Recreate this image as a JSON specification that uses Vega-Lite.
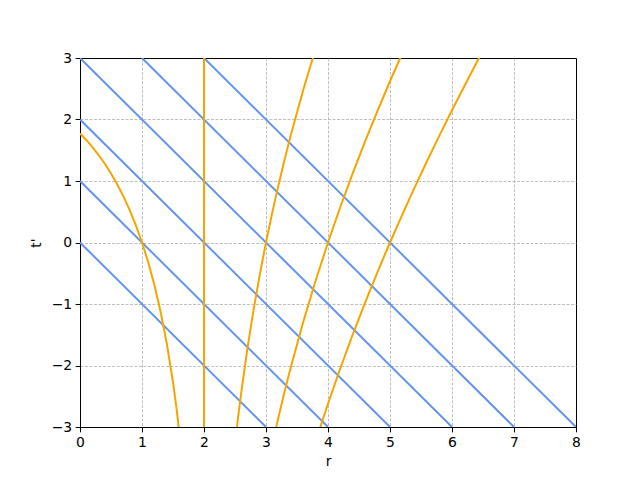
{
  "$schema": "https://vega.github.io/schema/vega-lite/v6.json",
  "width": 496,
  "height": 369,
  "autosize": {"type": "none"},
  "padding": {"left": 80, "top": 58, "right": 64, "bottom": 53},
  "background": "white",
  "config": {
    "font": "DejaVu Sans",
    "view": {"stroke": "black", "strokeWidth": 1},
    "axis": {
      "domainColor": "black", "tickColor": "black", "labelColor": "black", "titleColor": "black",
      "labelFontSize": 13.9, "titleFontSize": 13.9, "titleFontWeight": "normal", "tickSize": 4.86,
      "labelPadding": 3.5,
      "labelFont": "DejaVu Sans", "titleFont": "DejaVu Sans",
      "gridColor": "#b0b0b0", "gridDash": [3, 1.5], "gridWidth": 0.8
    }
  },
  "data": {"values": [
    {"r": 0, "t": 0, "id": "b0", "kind": "in"}, {"r": 3, "t": -3, "id": "b0", "kind": "in"},
    {"r": 0, "t": 1, "id": "b1", "kind": "in"}, {"r": 4, "t": -3, "id": "b1", "kind": "in"},
    {"r": 0, "t": 2, "id": "b2", "kind": "in"}, {"r": 5, "t": -3, "id": "b2", "kind": "in"},
    {"r": 0, "t": 3, "id": "b3", "kind": "in"}, {"r": 6, "t": -3, "id": "b3", "kind": "in"},
    {"r": 1, "t": 3, "id": "b4", "kind": "in"}, {"r": 7, "t": -3, "id": "b4", "kind": "in"},
    {"r": 2, "t": 3, "id": "b5", "kind": "in"}, {"r": 8, "t": -3, "id": "b5", "kind": "in"},

    {"r": 0, "t": 1.7726, "id": "oA", "kind": "out"},
    {"r": 0.1, "t": 1.6674, "id": "oA", "kind": "out"},
    {"r": 0.2, "t": 1.5512, "id": "oA", "kind": "out"},
    {"r": 0.3, "t": 1.4225, "id": "oA", "kind": "out"},
    {"r": 0.4, "t": 1.28, "id": "oA", "kind": "out"},
    {"r": 0.5, "t": 1.1219, "id": "oA", "kind": "out"},
    {"r": 0.6, "t": 0.9459, "id": "oA", "kind": "out"},
    {"r": 0.7, "t": 0.7495, "id": "oA", "kind": "out"},
    {"r": 0.8, "t": 0.5293, "id": "oA", "kind": "out"},
    {"r": 0.9, "t": 0.2812, "id": "oA", "kind": "out"},
    {"r": 1.0, "t": 0, "id": "oA", "kind": "out"},
    {"r": 1.05, "t": -0.1552, "id": "oA", "kind": "out"},
    {"r": 1.1, "t": -0.3214, "id": "oA", "kind": "out"},
    {"r": 1.2, "t": -0.6926, "id": "oA", "kind": "out"},
    {"r": 1.3, "t": -1.1267, "id": "oA", "kind": "out"},
    {"r": 1.4, "t": -1.6433, "id": "oA", "kind": "out"},
    {"r": 1.5, "t": -2.2726, "id": "oA", "kind": "out"},
    {"r": 1.55, "t": -2.644, "id": "oA", "kind": "out"},
    {"r": 1.6, "t": -3.0652, "id": "oA", "kind": "out"},

    {"r": 2, "t": -3, "id": "oV", "kind": "out"},
    {"r": 2, "t": 3, "id": "oV", "kind": "out"},

    {"r": 2.5, "t": -3.2726, "id": "oB", "kind": "out"},
    {"r": 2.55, "t": -2.8413, "id": "oB", "kind": "out"},
    {"r": 2.6, "t": -2.4433, "id": "oB", "kind": "out"},
    {"r": 2.7, "t": -1.7267, "id": "oB", "kind": "out"},
    {"r": 2.8, "t": -1.0926, "id": "oB", "kind": "out"},
    {"r": 2.9, "t": -0.5214, "id": "oB", "kind": "out"},
    {"r": 3.0, "t": 0, "id": "oB", "kind": "out"},
    {"r": 3.1, "t": 0.4812, "id": "oB", "kind": "out"},
    {"r": 3.2, "t": 0.9293, "id": "oB", "kind": "out"},
    {"r": 3.3, "t": 1.3495, "id": "oB", "kind": "out"},
    {"r": 3.4, "t": 1.7459, "id": "oB", "kind": "out"},
    {"r": 3.6, "t": 2.48, "id": "oB", "kind": "out"},
    {"r": 3.8, "t": 3.1512, "id": "oB", "kind": "out"},

    {"r": 3.1, "t": -3.2914, "id": "oC", "kind": "out"},
    {"r": 3.2, "t": -2.8433, "id": "oC", "kind": "out"},
    {"r": 3.3, "t": -2.4231, "id": "oC", "kind": "out"},
    {"r": 3.4, "t": -2.0267, "id": "oC", "kind": "out"},
    {"r": 3.6, "t": -1.2926, "id": "oC", "kind": "out"},
    {"r": 3.8, "t": -0.6214, "id": "oC", "kind": "out"},
    {"r": 4.0, "t": 0, "id": "oC", "kind": "out"},
    {"r": 4.2, "t": 0.5812, "id": "oC", "kind": "out"},
    {"r": 4.4, "t": 1.1293, "id": "oC", "kind": "out"},
    {"r": 4.6, "t": 1.6495, "id": "oC", "kind": "out"},
    {"r": 4.8, "t": 2.1459, "id": "oC", "kind": "out"},
    {"r": 5.0, "t": 2.6219, "id": "oC", "kind": "out"},
    {"r": 5.2, "t": 3.08, "id": "oC", "kind": "out"},

    {"r": 3.8, "t": -3.2433, "id": "oD", "kind": "out"},
    {"r": 3.9, "t": -2.9271, "id": "oD", "kind": "out"},
    {"r": 4.0, "t": -2.6219, "id": "oD", "kind": "out"},
    {"r": 4.2, "t": -2.0407, "id": "oD", "kind": "out"},
    {"r": 4.4, "t": -1.4926, "id": "oD", "kind": "out"},
    {"r": 4.6, "t": -0.9724, "id": "oD", "kind": "out"},
    {"r": 4.8, "t": -0.476, "id": "oD", "kind": "out"},
    {"r": 5.0, "t": 0, "id": "oD", "kind": "out"},
    {"r": 5.2, "t": 0.4581, "id": "oD", "kind": "out"},
    {"r": 5.4, "t": 0.9006, "id": "oD", "kind": "out"},
    {"r": 5.6, "t": 1.3293, "id": "oD", "kind": "out"},
    {"r": 5.8, "t": 1.7455, "id": "oD", "kind": "out"},
    {"r": 6.0, "t": 2.1507, "id": "oD", "kind": "out"},
    {"r": 6.2, "t": 2.5458, "id": "oD", "kind": "out"},
    {"r": 6.4, "t": 2.9319, "id": "oD", "kind": "out"},
    {"r": 6.5, "t": 3.1218, "id": "oD", "kind": "out"}
  ]},
  "mark": {"type": "line", "clip": true, "strokeWidth": 2},
  "encoding": {
    "x": {"field": "r", "type": "quantitative", "title": "r",
      "scale": {"domain": [0, 8], "nice": false, "zero": false},
      "axis": {"values": [0, 1, 2, 3, 4, 5, 6, 7, 8], "grid": true, "labelFlush": false, "titlePadding": 5,
        "gridOpacity": {"condition": {"test": "datum.value == 8 || datum.value == 0", "value": 0}, "value": 1}}},
    "y": {"field": "t", "type": "quantitative", "title": "t'",
      "scale": {"domain": [-3, 3], "nice": false, "zero": false},
      "axis": {"values": [-3, -2, -1, 0, 1, 2, 3], "grid": true, "labelFlush": false,
        "labelExpr": "replace(datum.label, '-', '\u2212')", "titlePadding": 8,
        "gridOpacity": {"condition": {"test": "datum.value == 3 || datum.value == -3", "value": 0}, "value": 1}}},
    "detail": {"field": "id"},
    "order": {"field": "r", "type": "quantitative"},
    "color": {"field": "kind", "type": "nominal", "legend": null,
      "scale": {"domain": ["in", "out"], "range": ["#6495ED", "#F5A500"]}}
  }
}
